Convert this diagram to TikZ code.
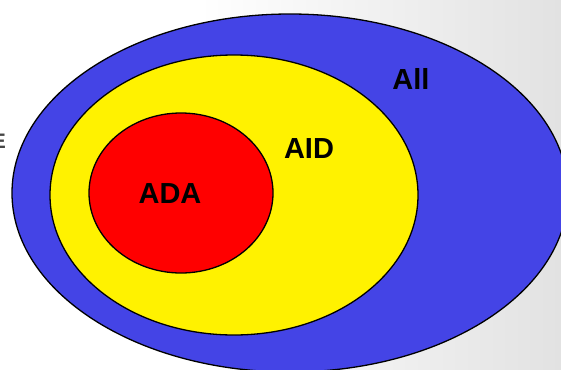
\documentclass[tikz,border=0pt]{standalone}
\usepackage{fontspec}
\setmainfont{Liberation Sans}
\definecolor{setblue}{RGB}{68,68,230}
\definecolor{bggray}{RGB}{226,226,226}
\definecolor{textgray}{RGB}{70,70,70}
\begin{document}
\begin{tikzpicture}[x=1pt,y=-1pt,
  setshape/.style={draw=black,line width=1.3pt},
  setlabel/.style={font=\fontsize{29}{31}\selectfont\bfseries,text=black,inner sep=0pt}]
\useasboundingbox (0,0) rectangle (561,369);
\fill[white] (0,0) rectangle (200,369);
\shade[left color=white,right color=bggray] (199,0) rectangle (561,369);
\filldraw[setshape,fill=setblue] (290,193) ellipse [x radius=278,y radius=179] coordinate (all);
\filldraw[setshape,fill=yellow] (234,195) ellipse [x radius=184,y radius=140] coordinate (aid);
\filldraw[setshape,fill=red] (181,193) ellipse [x radius=92,y radius=80] coordinate (ada);
\node[setlabel] (lall) at (411,79) {All};
\node[setlabel] (laid) at (309,149) {AID};
\node[setlabel] (lada) at (170,194) {ADA};
\node[font=\fontsize{21}{22}\selectfont\bfseries,text=textgray,inner sep=0pt,anchor=east] (le) at (6,141) {E};
\end{tikzpicture}
\end{document}
